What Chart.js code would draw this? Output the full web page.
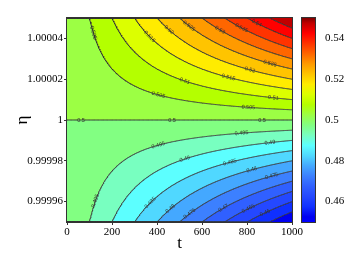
<!DOCTYPE html>
<html><head><meta charset="utf-8">
<script src="https://cdn.jsdelivr.net/npm/chart.js@4.4.1/dist/chart.umd.min.js"></script>
<style>
html,body{margin:0;padding:0;background:#fff;}
#wrap{position:relative;width:357px;height:254px;overflow:hidden;}
#main{position:absolute;left:0;top:0;}
#cb{position:absolute;left:290px;top:0;}
</style></head><body>
<div id="wrap"><canvas id="main" width="357" height="254"></canvas><canvas id="cb" width="67" height="254"></canvas></div>
<script>
// ---- data ----
const tGrid = [0,100,200,300,400,500,600,700,800,900,1000];
const etaGrid = [0.99995,0.99996,0.99997,0.99998,0.99999,1,1.00001,1.00002,1.00003,1.00004,1.00005];
const zGrid = [
 [0.5,0.495,0.49,0.485,0.48,0.475,0.47,0.465,0.46,0.455,0.45],
 [0.5,0.496,0.492,0.488,0.484,0.48,0.476,0.472,0.468,0.464,0.46],
 [0.5,0.497,0.494,0.491,0.488,0.485,0.482,0.479,0.476,0.473,0.47],
 [0.5,0.498,0.496,0.494,0.492,0.49,0.488,0.486,0.484,0.482,0.48],
 [0.5,0.499,0.498,0.497,0.496,0.495,0.494,0.493,0.492,0.491,0.49],
 [0.5,0.5,0.5,0.5,0.5,0.5,0.5,0.5,0.5,0.5,0.5],
 [0.5,0.501,0.502,0.503,0.504,0.505,0.506,0.507,0.508,0.509,0.51],
 [0.5,0.502,0.504,0.506,0.508,0.51,0.512,0.514,0.516,0.518,0.52],
 [0.5,0.503,0.506,0.509,0.512,0.515,0.518,0.521,0.524,0.527,0.53],
 [0.5,0.504,0.508,0.512,0.516,0.52,0.524,0.528,0.532,0.536,0.54],
 [0.5,0.505,0.51,0.515,0.52,0.525,0.53,0.535,0.54,0.545,0.55]
];
const levels = [0.455,0.46,0.465,0.47,0.475,0.48,0.485,0.49,0.495,0.5,0.505,0.51,0.515,0.52,0.525,0.53,0.535,0.54,0.545];
const zMin = 0.45, zMax = 0.55;
const xTicks = [0,200,400,600,800,1000];
const yTicks = [0.99996,0.99998,1,1.00002,1.00004];
const cbTicks = [0.46,0.48,0.5,0.52,0.54];
const labelLevels = [0.505,0.505,0.505,0.51,0.51,0.515,0.515,0.52,0.52,0.525,0.525,0.53,0.535,0.54,
                     0.5,0.5,0.5,
                     0.495,0.495,0.495,0.49,0.49,0.485,0.485,0.48,0.48,0.475,0.475,0.47,0.465,0.46];
const labelTimes  = [117,406,806,524,917,367,717,453,813,542,902,680,776,843,
                     62,467,867,
                     126,406,776,524,902,370,724,459,821,545,910,695,806,880];

// ---- styles ----
const bandColors = ['#0000f0','#1030ff','#2448ff','#3060ff','#3c80ff','#44a8ff','#50d8ff','#5cffff','#78ffc0','#82ff82',
                    '#9cff44','#b4ff00','#dcff00','#ffec00','#ffc400','#ff9a00','#ff6600','#ff3300','#ff0000','#c00000'];
const serif = '"Liberation Serif","Times New Roman",serif';

// contour of the gridded field at level c, for a given t (clipped to the plot frame)
function etaAt(c, t){
  t = Math.max(t, 0.01);
  let i = 0; while (i < tGrid.length-2 && t > tGrid[i+1]) i++;
  const f = (t - tGrid[i])/(tGrid[i+1]-tGrid[i]);
  const col = zGrid.map(r => r[i] + (r[i+1]-r[i])*f);
  for (let j=0;j<col.length-1;j++){
    const a = col[j]-c, b = col[j+1]-c;
    if (a === b) continue;
    if ((a<=0 && b>=0) || (a>=0 && b<=0)){
      const fr = a/(a-b);
      return etaGrid[j] + (etaGrid[j+1]-etaGrid[j])*fr;
    }
  }
  return c > Math.max(...col) ? etaGrid[etaGrid.length-1] : etaGrid[0];
}
const tSamples = [];
for (let t = tGrid[0]; t <= tGrid[tGrid.length-1] + 1e-9; t += 2) tSamples.push(t);
const curve = c => tSamples.map(t => ({x:t, y:etaAt(c,t)}));

const edges = [zMin, ...levels, zMax];
const datasets = [];
edges.forEach((c,k) => {
  datasets.push({data: curve(c), borderWidth: 0, borderColor: 'rgba(0,0,0,0)', pointRadius: 0,
    backgroundColor: bandColors[k] || 'rgba(0,0,0,0)', fill: k < edges.length-1 ? '+1' : false, order: 1, tension: 0});
});
levels.forEach(c => {
  datasets.push({data: curve(c), borderWidth: 1, borderColor: '#333', pointRadius: 0, fill: false, order: 0, tension: 0});
});

const fmt = v => { let s = Number(v).toFixed(5); s = s.replace(/0+$/,'').replace(/\.$/,''); return s; };

const framePlugin = {
  id: 'frame',
  afterDatasetsDraw(chart){
    const {ctx, chartArea:a, scales:{x, y}} = chart;
    ctx.save();
    // contour labels
    ctx.fillStyle = '#333';
    ctx.font = '5.5px "Liberation Sans", Arial, sans-serif';
    ctx.textAlign = 'center'; ctx.textBaseline = 'middle';
    labelLevels.forEach((c, n) => {
      const t = labelTimes[n];
      const px = x.getPixelForValue(t), py = y.getPixelForValue(etaAt(c,t));
      const x1 = x.getPixelForValue(t-4), y1 = y.getPixelForValue(etaAt(c,t-4));
      const x2 = x.getPixelForValue(t+4), y2 = y.getPixelForValue(etaAt(c,t+4));
      let ang = Math.atan2(y2-y1, x2-x1);
      ctx.save(); ctx.translate(px, py); ctx.rotate(ang);
      ctx.fillText(fmt(c), 0, 0); ctx.restore();
    });
    ctx.strokeStyle = '#333'; ctx.lineWidth = 1;
    ctx.strokeRect(Math.round(a.left)-0.5, Math.round(a.top)-0.5, Math.round(a.right-a.left)+1, Math.round(a.bottom-a.top)+1);
    ctx.restore();
  }
};

new Chart(document.getElementById('main'), {
  type: 'line',
  data: {datasets},
  options: {
    responsive: false, animation: false, parsing: false, normalized: true,
    events: [],
    layout: {padding: {top: 18, right: 65, left: 0, bottom: 0}},
    plugins: {legend: {display: false}, tooltip: {enabled: false}, filler: {propagate: false}},
    scales: {
      x: {type: 'linear', min: 0, max: 1000,
        afterBuildTicks: s => { s.ticks = xTicks.map(v => ({value: v})); },
        afterFit: s => { s.height = 32; },
        grid: {display: true, drawOnChartArea: false, drawTicks: true, tickLength: 3, color: '#333'},
        border: {display: false},
        ticks: {font: {family: serif, size: 11}, color: '#000', padding: 1, maxRotation: 0, autoSkip: false, callback: v => String(v)},
        title: {display: true, text: 't', font: {family: serif, size: 17}, color: '#000', padding: {top: 0, bottom: 0}}
      },
      y: {type: 'linear', min: 0.99995, max: 1.00005,
        afterBuildTicks: s => { s.ticks = yTicks.map(v => ({value: v})); },
        afterFit: s => { s.width = 67; },
        grid: {display: true, drawOnChartArea: false, drawTicks: true, tickLength: 3, color: '#333'},
        border: {display: false},
        ticks: {font: {family: serif, size: 11}, color: '#000', padding: 1, autoSkip: false, callback: v => fmt(v)},
        title: {display: true, text: 'η', font: {family: serif, size: 17}, color: '#000', padding: {top: 12, bottom: 0}}
      }
    }
  },
  plugins: [framePlugin]
});

// ---- colour bar ----
const cbFrame = {
  id: 'cbframe',
  afterDatasetsDraw(chart){
    const {ctx, chartArea:a} = chart;
    ctx.save(); ctx.strokeStyle = '#333'; ctx.lineWidth = 1;
    ctx.strokeRect(Math.round(a.left)-0.5, Math.round(a.top)-0.5, Math.round(a.right-a.left)+1, Math.round(a.bottom-a.top)+1);
    ctx.restore();
  }
};
new Chart(document.getElementById('cb'), {
  type: 'bar',
  data: {labels: ['z'], datasets: [{
    data: [[zMin, zMax]], borderWidth: 0, barPercentage: 1, categoryPercentage: 1,
    backgroundColor: (ctx) => {
      const ch = ctx.chart; if (!ch.chartArea) return '#888';
      const ys = ch.scales.y;
      const g = ch.ctx.createLinearGradient(0, ys.getPixelForValue(zMin), 0, ys.getPixelForValue(zMax));
      g.addColorStop(0, '#0000ff');
      bandColors.forEach((col, k) => {
        const mid = (edges[k] + edges[k+1]) / 2;
        g.addColorStop((mid - zMin)/(zMax - zMin), col);
      });
      g.addColorStop(1, '#800000');
      return g;
    }
  }]},
  options: {
    responsive: false, animation: false, events: [],
    layout: {padding: {top: 18, right: 0, left: 12, bottom: 32}},
    plugins: {legend: {display: false}, tooltip: {enabled: false}},
    scales: {
      x: {display: false},
      y: {position: 'right', min: zMin, max: zMax,
        afterBuildTicks: s => { s.ticks = cbTicks.map(v => ({value: v})); },
        afterFit: s => { s.width = 42; },
        grid: {display: false}, border: {display: false},
        ticks: {font: {family: serif, size: 11}, color: '#000', padding: 2, autoSkip: false, callback: v => fmt(v)}
      }
    }
  },
  plugins: [cbFrame]
});
</script>
</body></html>
